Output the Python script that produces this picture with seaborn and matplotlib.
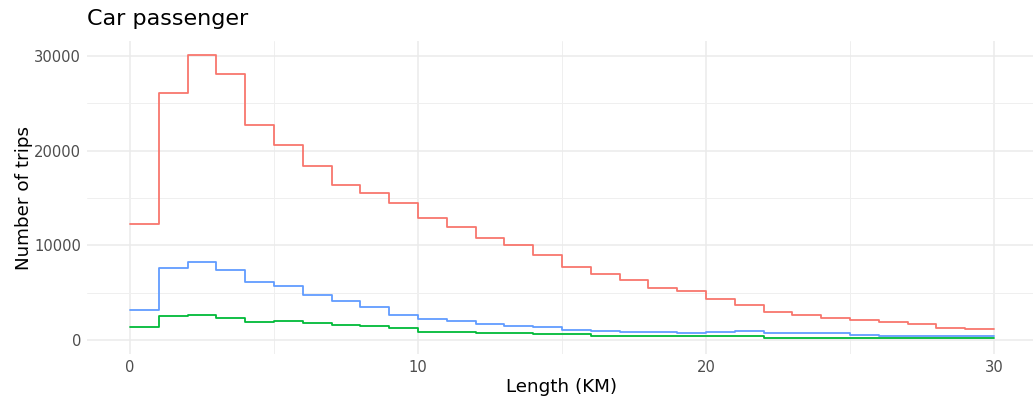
import numpy as np
import pandas as pd
import matplotlib
matplotlib.use("Agg")
import matplotlib.pyplot as plt
import seaborn as sns

# Bin edges (KM) and counts per 1-km bin
bin_starts = list(range(0, 30))
red_counts = [12250, 26080, 30100, 28090, 22700, 20590, 18370, 16370, 15520, 14470,
              12880, 11930, 10770, 10030, 8980, 7710, 6970, 6340, 5490, 5170,
              4330, 3700, 2960, 2640, 2320, 2110, 1900, 1690, 1270, 1160]
green_counts = [1370, 2530, 2600, 2360, 1930, 2000, 1830, 1580, 1440, 1230,
                880, 860, 700, 700, 630, 620, 450, 420, 440, 390,
                390, 390, 250, 180, 180, 180, 180, 180, 180, 180]
blue_counts = [3170, 7640, 8240, 7430, 6160, 5700, 4750, 4150, 3450, 2600,
               2230, 1970, 1720, 1510, 1340, 1090, 990, 880, 845, 740,
               830, 915, 770, 700, 700, 560, 450, 450, 390, 390]
groups = ["A", "B", "C"]
colors = {"A": "#F8766D", "B": "#00BA38", "C": "#619CFF"}

title = "Car passenger"
xlabel = "Length (KM)"
ylabel = "Number of trips"
xticks = [0, 10, 20, 30]
yticks = [0, 10000, 20000, 30000]

rows = []
for g, vals in zip(groups, [red_counts, green_counts, blue_counts]):
    for s, v in zip(bin_starts, vals):
        rows.append({"length": s + 0.5, "count": v, "group": g})
df = pd.DataFrame(rows)

sns.set_theme(style="whitegrid")
plt.rcParams["font.family"] = ["DejaVu Sans"]

W, H = 1033, 398
fig = plt.figure(figsize=(W / 100, H / 100), dpi=100)
left, right, bottom, top = 86.8, 1037.2, 354.3, 40.7
ax = fig.add_axes([left / W, (H - bottom) / H, (right - left) / W, (bottom - top) / H])

sns.histplot(data=df, x="length", weights="count", hue="group", hue_order=["A", "B", "C"],
             bins=30, binrange=(0, 30), element="step", fill=False, palette=colors,
             legend=False, linewidth=1.3, ax=ax)

ax.set_xlim(-1.5, 31.5)
ax.set_ylim(-1505, 31605)
ax.set_xticks(xticks)
ax.set_yticks(yticks)
ax.set_xticks([5, 15, 25], minor=True)
ax.set_yticks([5000, 15000, 25000], minor=True)
ax.grid(which="major", color="#EBEBEB", linewidth=1.1)
ax.grid(which="minor", color="#EFEFEF", linewidth=0.7)
ax.set_axisbelow(True)
for sp in ax.spines.values():
    sp.set_visible(False)
ax.set_facecolor("white")
ax.tick_params(which="both", length=0, labelsize=10.6, labelcolor="#4D4D4D", pad=4)
ax.set_xlabel(xlabel, fontsize=13.2, color="black", labelpad=2)
ax.set_ylabel(ylabel, fontsize=13.2, color="black", labelpad=1)
ax.set_title(title, fontsize=16, loc="left", x=0.0, pad=11, color="black")

fig.savefig("out.png", dpi=100)
